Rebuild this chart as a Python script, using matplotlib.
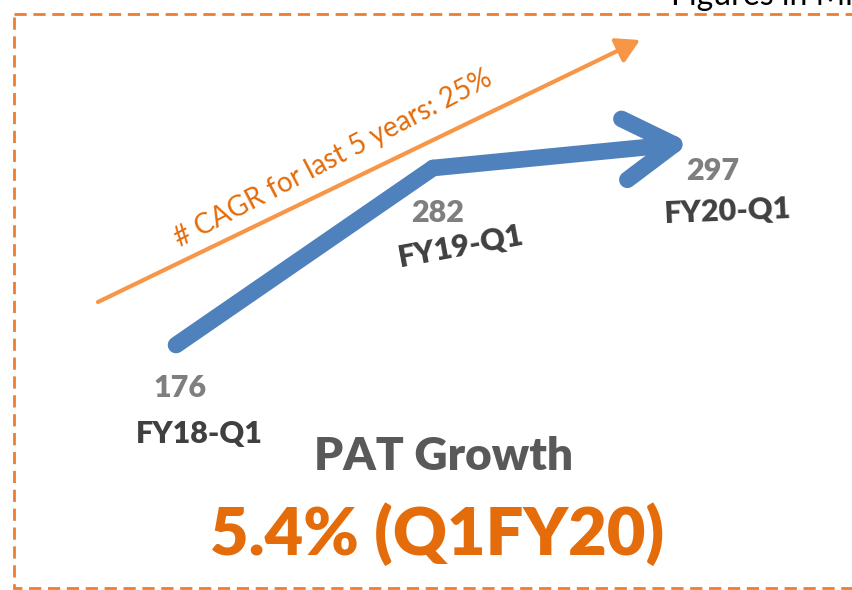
import matplotlib.pyplot as plt
import matplotlib.patches as mpatches
import numpy as np

plt.rcParams['font.family'] = ['Lato', 'DejaVu Sans']

# data
periods = ['FY18-Q1', 'FY19-Q1', 'FY20-Q1']
pat = [176, 282, 297]
cagr_text = '# CAGR for last 5 years: 25%'
title = 'PAT Growth'
growth_text = '5.4% (Q1FY20)'

blue = '#4F81BD'
orange_line = '#F79646'
orange_txt = '#E46C0A'

fig = plt.figure(figsize=(8.52, 5.90), dpi=100)

# axes for the PAT line (values on y, periods evenly spaced on x)
ax = fig.add_axes([0, 0, 1, 1])
ax.set_xlim(-0.685, 2.63)
ax.set_ylim(29.3, 382.6)
ax.axis('off')

x = np.arange(len(pat))
ax.plot(x[:2], pat[:2], color=blue, lw=12, solid_capstyle='round',
        solid_joinstyle='miter', zorder=3)
ax.annotate('', xy=(x[2], pat[2]), xytext=(x[1], pat[1]),
            arrowprops=dict(arrowstyle='->,head_length=0.36,head_width=0.22',
                            mutation_scale=100, lw=12, color=blue,
                            shrinkA=0, shrinkB=0, capstyle='round'),
            zorder=3)

# overlay in pixel coordinates for labels and decoration
ov = fig.add_axes([0, 0, 1, 1], facecolor='none')
ov.set_xlim(0, 852)
ov.set_ylim(590, 0)
ov.axis('off')

# dashed frame
frame = mpatches.Rectangle((14, 14), 900, 574, fill=False, edgecolor='#ED7D31',
                           lw=2, linestyle=(0, (4.4, 2.4)), zorder=1)
ov.add_patch(frame)
ov.text(671, 5, 'Figures in Mn', fontsize=23, color='black', ha='left', va='baseline')

# CAGR arrow
ov.annotate('', xy=(640, 40), xytext=(98, 302),
            arrowprops=dict(arrowstyle='-|>,head_length=0.7,head_width=0.4',
                            mutation_scale=20, lw=3, color=orange_line,
                            shrinkA=0, shrinkB=0), zorder=2)
ov.text(337, 166, cagr_text, fontsize=20, color=orange_txt, rotation=27.5,
        rotation_mode='anchor', ha='center', va='baseline')

# value and period labels
val_pos = [(180, 397), (438, 222), (713, 180)]
per_pos = [(199, 443, 0), (463, 255, 10.5), (728, 220, 2.3)]
for v, (vx, vy), p, (px, py, rot) in zip(pat, val_pos, periods, per_pos):
    ov.text(vx, vy, str(v), fontsize=22, fontweight='heavy', color='#7F7F7F',
            ha='center', va='baseline')
    ov.text(px, py, p, fontsize=22, fontweight='heavy', color='#404040',
            ha='center', va='baseline', rotation=rot, rotation_mode='anchor')

ov.text(444, 470, title, fontsize=33, fontweight='heavy', color='#595959',
        ha='center', va='baseline')
ov.text(437, 555, growth_text, fontsize=48, fontweight='heavy', color=orange_txt,
        ha='center', va='baseline')

fig.savefig('out.png', dpi=100)
